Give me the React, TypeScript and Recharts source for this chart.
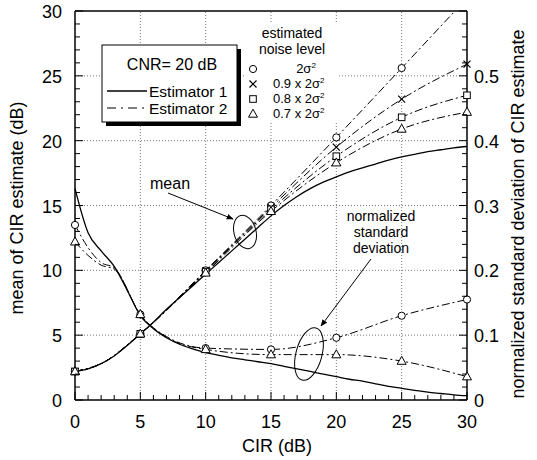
import React from 'react';
import { LineChart, Line, XAxis, YAxis, ReferenceLine } from 'recharts';

const cirValues = [0, 1, 2, 3, 4, 5, 6, 7, 8, 9, 10, 11, 12, 13, 14, 15, 16, 17, 18, 19, 20, 21, 22, 23, 24, 25, 26, 27, 28, 29, 30];
const meanEst1 = [2.2, 2.4, 2.8, 3.4, 4.2, 5.1, 6.0, 7.0, 7.9, 8.8, 9.7, 10.6, 11.5, 12.4, 13.3, 14.2, 15.0, 15.7, 16.3, 16.8, 17.2, 17.6, 17.9, 18.2, 18.5, 18.75, 18.95, 19.15, 19.3, 19.45, 19.55];
const stdEst1 = [0.326, 0.258, 0.23, 0.206, 0.169, 0.13, 0.11, 0.096, 0.086, 0.079, 0.073, 0.069, 0.065, 0.062, 0.059, 0.056, 0.052, 0.048, 0.044, 0.04, 0.036, 0.032, 0.029, 0.025, 0.021, 0.018, 0.015, 0.012, 0.01, 0.008, 0.0066];

const meanEst2Cir = [0, 2, 5, 10, 15, 20, 25, 30];
const meanEst2Full = [2.2, 2.8, 5.1, 10.0, 15.0, 20.25, 25.6, 31.0];
const meanEst2Ninety = [2.2, 2.8, 5.1, 9.95, 14.85, 19.5, 23.2, 25.9];
const meanEst2Eighty = [2.2, 2.8, 5.1, 9.9, 14.7, 18.8, 21.8, 23.5];
const meanEst2Seventy = [2.2, 2.8, 5.1, 9.8, 14.55, 18.3, 20.9, 22.2];

const stdEst2Cir = [0, 1, 2, 3, 5, 7, 10, 15, 20, 25, 30];
const stdEst2Full = [0.27, 0.235, 0.212, 0.204, 0.132, 0.098, 0.08, 0.078, 0.096, 0.13, 0.155];
const stdEst2Seventy = [0.244, 0.223, 0.208, 0.202, 0.132, 0.097, 0.078, 0.07, 0.07, 0.06, 0.036];

const xTicks = cirValues;
const leftTicks = [0, 1, 2, 3, 4, 5, 6, 7, 8, 9, 10, 11, 12, 13, 14, 15, 16, 17, 18, 19, 20, 21, 22, 23, 24, 25, 26, 27, 28, 29, 30];
const rightTicks = [0, 0.02, 0.04, 0.06, 0.08, 0.1, 0.12, 0.14, 0.16, 0.18, 0.2, 0.22, 0.24, 0.26, 0.28, 0.3, 0.32, 0.34, 0.36, 0.38, 0.4, 0.42, 0.44, 0.46, 0.48, 0.5, 0.52, 0.54, 0.56, 0.58, 0.6];
const rightLabels = ['0', '0.1', '0.2', '0.3', '0.4', '0.5'];
const gridX = [5, 10, 15, 20, 25];
const gridY = [5, 10, 15, 20, 25];

const FONT = '"Liberation Sans", Arial, Helvetica, sans-serif';

const lookup = (cirs: number[], vals: number[], c: number) => {
  const i = cirs.indexOf(c);
  return i >= 0 ? vals[i] : undefined;
};

const data = cirValues.map((c, i) => ({
  cir: c,
  m1: meanEst1[i],
  s1: stdEst1[i],
  m2a: lookup(meanEst2Cir, meanEst2Full, c),
  m2b: lookup(meanEst2Cir, meanEst2Ninety, c),
  m2c: lookup(meanEst2Cir, meanEst2Eighty, c),
  m2d: lookup(meanEst2Cir, meanEst2Seventy, c),
  s2a: lookup(stdEst2Cir, stdEst2Full, c),
  s2d: lookup(stdEst2Cir, stdEst2Seventy, c),
}));

type Shape = 'circle' | 'cross' | 'square' | 'triangle';

const Marker = ({ cx, cy, shape }: { cx: number; cy: number; shape: Shape }) => {
  if (shape === 'circle') return <circle cx={cx} cy={cy} r={3.6} fill="#fff" stroke="#000" strokeWidth={1} />;
  if (shape === 'cross')
    return (
      <g stroke="#000" strokeWidth={1.2}>
        <line x1={cx - 3.5} y1={cy - 3.5} x2={cx + 3.5} y2={cy + 3.5} />
        <line x1={cx - 3.5} y1={cy + 3.5} x2={cx + 3.5} y2={cy - 3.5} />
      </g>
    );
  if (shape === 'square') return <rect x={cx - 3.3} y={cy - 3.3} width={6.6} height={6.6} fill="#fff" stroke="#000" strokeWidth={1} />;
  return (
    <polygon
      points={`${cx},${cy - 4.8} ${cx - 4.5},${cy + 3.2} ${cx + 4.5},${cy + 3.2}`}
      fill="#fff"
      stroke="#000"
      strokeWidth={1}
    />
  );
};

const makeDot = (shape: Shape, maxVal: number) => (props: any) => {
  const { cx, cy, payload, index, value } = props;
  const k = `${shape}-${index}`;
  if (cx == null || cy == null || payload == null || payload.cir % 5 !== 0) return <g key={k} />;
  const v = Array.isArray(value) ? value[1] : value;
  if (v == null || v > maxVal) return <g key={k} />;
  return (
    <g key={k}>
      <Marker cx={cx} cy={cy} shape={shape} />
    </g>
  );
};

const XTick = (props: any) => {
  const { x, y, payload } = props;
  const v = payload.value;
  const major = v % 5 === 0;
  return (
    <g>
      <line x1={x} x2={x} y1={y} y2={y - (major ? 8 : 5)} stroke="#000" strokeWidth={1} />
      {major && (
        <text x={x} y={y + 28} textAnchor="middle" fontSize={18} fontFamily={FONT} fill="#000">
          {v}
        </text>
      )}
    </g>
  );
};

const LeftTick = (props: any) => {
  const { x, y, payload } = props;
  const v = payload.value;
  const major = v % 5 === 0;
  return (
    <g>
      <line x1={x} x2={x + (major ? 8 : 5)} y1={y} y2={y} stroke="#000" strokeWidth={1} />
      {major && (
        <text x={x - 13} y={y + 7} textAnchor="end" fontSize={18} fontFamily={FONT} fill="#000">
          {v}
        </text>
      )}
    </g>
  );
};

const RightTick = (props: any) => {
  const { x, y, index } = props;
  const major = index % 5 === 0;
  const label = major ? rightLabels[index / 5] : undefined;
  return (
    <g>
      <line x1={x} x2={x - (major ? 8 : 5)} y1={y} y2={y} stroke="#000" strokeWidth={1} />
      {label && (
        <text x={x + 7} y={y + 7} textAnchor="start" fontSize={18} fontFamily={FONT} fill="#000">
          {label}
        </text>
      )}
    </g>
  );
};

const DASH = '8 3 2 3';

const Sup = () => (
  <tspan dy={-5} fontSize={8}>
    2
  </tspan>
);

const Overlay = () => (
  <svg
    width={537}
    height={460}
    style={{ position: 'absolute', left: 0, top: 0, pointerEvents: 'none' }}
    fontFamily={FONT}
  >
    <defs>
      <marker id="arrow" viewBox="0 0 10 10" refX="9" refY="5" markerWidth="7" markerHeight="7" orient="auto-start-reverse">
        <path d="M0,1 L10,5 L0,9 z" fill="#000" />
      </marker>
    </defs>
    {/* legend box */}
    <rect x={106} y={49} width={135} height={77} fill="#000" />
    <rect x={102} y={45} width={135} height={77} fill="#fff" stroke="#000" strokeWidth={1} />
    <text x={172} y={70} textAnchor="middle" fontSize={16}>CNR= 20 dB</text>
    <line x1={107} x2={147} y1={91} y2={91} stroke="#000" strokeWidth={1.3} />
    <text x={149} y={96.5} fontSize={15.5}>Estimator 1</text>
    <line x1={107} x2={147} y1={108} y2={108} stroke="#000" strokeWidth={1.1} strokeDasharray="9 5 2 5" />
    <text x={149} y={114} fontSize={15.5}>Estimator 2</text>

    {/* noise level legend */}
    <rect x={246} y={24} width={92} height={99} fill="#fff" />
    <text x={292} y={38} textAnchor="middle" fontSize={14}>estimated</text>
    <text x={292} y={54} textAnchor="middle" fontSize={14}>noise level</text>
    <Marker cx={253} cy={69} shape="circle" />
    <Marker cx={253} cy={84} shape="cross" />
    <Marker cx={253} cy={99} shape="square" />
    <Marker cx={253} cy={114} shape="triangle" />
    <text x={306} y={73} textAnchor="middle" fontSize={13}>
      2σ<Sup />
    </text>
    <text x={273} y={88} fontSize={13}>
      0.9 x 2σ<Sup />
    </text>
    <text x={273} y={103} fontSize={13}>
      0.8 x 2σ<Sup />
    </text>
    <text x={273} y={118} fontSize={13}>
      0.7 x 2σ<Sup />
    </text>

    {/* mean annotation */}
    <text x={150} y={189} fontSize={16}>mean</text>
    <line x1={168} y1={193} x2={233} y2={219} stroke="#000" strokeWidth={1} markerEnd="url(#arrow)" />
    <ellipse cx={245} cy={232} rx={11} ry={17} transform="rotate(-15 245 232)" fill="none" stroke="#000" strokeWidth={1} />

    {/* std annotation */}
    <text x={381} y={221} textAnchor="middle" fontSize={14}>normalized</text>
    <text x={381} y={237} textAnchor="middle" fontSize={14}>standard</text>
    <text x={381} y={253} textAnchor="middle" fontSize={14}>deviation</text>
    <line x1={371} y1={259} x2={321} y2={326} stroke="#000" strokeWidth={1} markerEnd="url(#arrow)" />
    <ellipse cx={309} cy={354} rx={13} ry={27} transform="rotate(15 309 354)" fill="none" stroke="#000" strokeWidth={1} />

    {/* axis titles */}
    <text x={277} y={452} textAnchor="middle" fontSize={18}>CIR (dB)</text>
    <text transform="translate(23 208) rotate(-90)" textAnchor="middle" fontSize={18}>mean of CIR estimate (dB)</text>
    <text transform="translate(524 214) rotate(-90)" textAnchor="middle" fontSize={18}>normalized standard deviation of CIR estimate</text>
  </svg>
);

export default function App() {
  return (
    <div style={{ position: 'absolute', left: 0, top: 0, width: 537, height: 460, background: '#fff' }}>
      <LineChart width={537} height={460} data={data} margin={{ top: 11, right: 0, bottom: 0, left: 0 }}>
        <XAxis
          dataKey="cir"
          type="number"
          domain={[0, 30]}
          ticks={xTicks}
          interval={0}
          tick={<XTick />}
          tickLine={false}
          tickSize={0}
          tickMargin={0}
          height={60}
          axisLine={{ stroke: '#000', strokeWidth: 1.5 }}
        />
        <YAxis
          yAxisId="left"
          orientation="left"
          type="number"
          domain={[0, 30]}
          allowDataOverflow
          ticks={leftTicks}
          interval={0}
          tick={<LeftTick />}
          tickLine={false}
          tickSize={0}
          tickMargin={0}
          width={75}
          axisLine={{ stroke: '#000', strokeWidth: 1.5 }}
        />
        <YAxis
          yAxisId="right"
          orientation="right"
          type="number"
          domain={[0, 0.6]}
          allowDataOverflow
          ticks={rightTicks}
          interval={0}
          tick={<RightTick />}
          tickLine={false}
          tickSize={0}
          tickMargin={0}
          width={70}
          axisLine={{ stroke: '#000', strokeWidth: 1.5 }}
        />
        {gridX.map((g) => (
          <ReferenceLine key={`gx${g}`} x={g} yAxisId="left" stroke="#555" strokeWidth={0.8} strokeDasharray="1 2" />
        ))}
        {gridY.map((g) => (
          <ReferenceLine key={`gy${g}`} y={g} yAxisId="left" stroke="#555" strokeWidth={0.8} strokeDasharray="1 2" />
        ))}
        <ReferenceLine y={30} yAxisId="left" stroke="#000" strokeWidth={1.5} />

        <Line yAxisId="left" dataKey="m1" type="monotone" stroke="#000" strokeWidth={1.3} dot={false} isAnimationActive={false} />
        <Line yAxisId="right" dataKey="s1" type="monotone" stroke="#000" strokeWidth={1.3} dot={false} isAnimationActive={false} />

        <Line yAxisId="left" dataKey="m2a" type="monotone" connectNulls stroke="#000" strokeWidth={1} strokeDasharray={DASH} dot={makeDot('circle', 30)} isAnimationActive={false} />
        <Line yAxisId="left" dataKey="m2b" type="monotone" connectNulls stroke="#000" strokeWidth={1} strokeDasharray={DASH} dot={makeDot('cross', 30)} isAnimationActive={false} />
        <Line yAxisId="left" dataKey="m2c" type="monotone" connectNulls stroke="#000" strokeWidth={1} strokeDasharray={DASH} dot={makeDot('square', 30)} isAnimationActive={false} />
        <Line yAxisId="left" dataKey="m2d" type="monotone" connectNulls stroke="#000" strokeWidth={1} strokeDasharray={DASH} dot={makeDot('triangle', 30)} isAnimationActive={false} />

        <Line yAxisId="right" dataKey="s2a" type="monotone" connectNulls stroke="#000" strokeWidth={1} strokeDasharray={DASH} dot={makeDot('circle', 0.6)} isAnimationActive={false} />
        <Line yAxisId="right" dataKey="s2d" type="monotone" connectNulls stroke="#000" strokeWidth={1} strokeDasharray={DASH} dot={makeDot('triangle', 0.6)} isAnimationActive={false} />
      </LineChart>
      <Overlay />
    </div>
  );
}
